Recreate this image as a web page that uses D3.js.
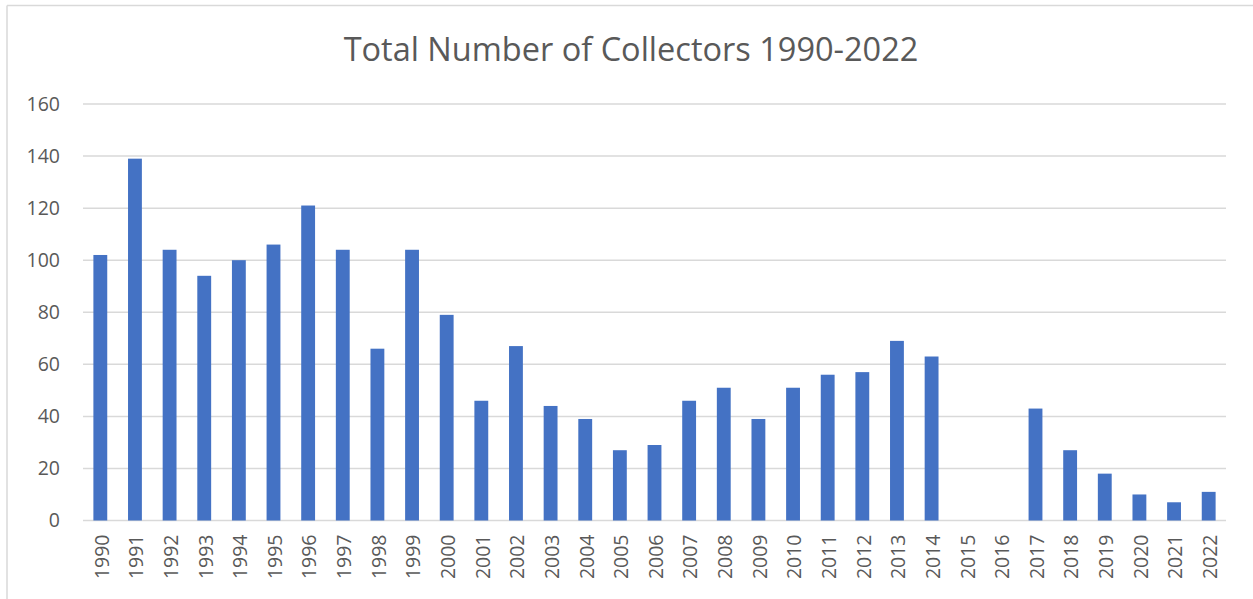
<!DOCTYPE html>
<html><head><meta charset="utf-8">
<script src="https://cdn.jsdelivr.net/npm/d3@7"></script>
<style>body{margin:0;background:#fff;} svg{display:block;}</style>
</head><body>
<svg id="chart" width="1253" height="599"></svg>
<script>
const years = ["1990","1991","1992","1993","1994","1995","1996","1997","1998","1999","2000","2001","2002","2003","2004","2005","2006","2007","2008","2009","2010","2011","2012","2013","2014","2015","2016","2017","2018","2019","2020","2021","2022"];
const collectors = [102,139,104,94,100,106,121,104,66,104,79,46,67,44,39,27,29,46,51,39,51,56,57,69,63,0,0,43,27,18,10,7,11];
const yTicks = [0,20,40,60,80,100,120,140,160];
const title = "Total Number of Collectors 1990-2022";

const svg = d3.select("#chart");
const W = 1253, H = 599;
const m = {left:83, right:27, top:104, bottom:78.5};
const font = "'Open Sans', 'Liberation Sans', sans-serif";

// chart frame (only top and left edges visible in the cropped reference)
svg.append("line").attr("x1",7).attr("x2",W).attr("y1",5.5).attr("y2",5.5)
  .attr("stroke","#d9d9d9").attr("stroke-width",1.5);
svg.append("line").attr("x1",7).attr("x2",7).attr("y1",5.5).attr("y2",H)
  .attr("stroke","#d9d9d9").attr("stroke-width",1.5);

const x = d3.scaleBand().domain(years).range([m.left, W-m.right]).paddingInner(0.6).paddingOuter(0.3);
const y = d3.scaleLinear().domain([0,160]).range([H-m.bottom, m.top]);

// gridlines
svg.append("g").selectAll("line").data(yTicks).join("line")
  .attr("x1",m.left).attr("x2",W-m.right)
  .attr("y1",d=>y(d)).attr("y2",d=>y(d))
  .attr("stroke","#d9d9d9").attr("stroke-width",1.5);

// y axis labels
const yAxis = d3.axisLeft(y).tickValues(yTicks).tickSize(0).tickPadding(0);
const gy = svg.append("g").attr("transform",`translate(${60},0)`).call(yAxis);
gy.select(".domain").remove();
gy.selectAll("text").attr("font-family",font).attr("font-size",19.5).attr("fill","#595959");

// bars
svg.append("g").selectAll("rect").data(years).join("rect")
  .attr("x",d=>x(d)).attr("width",x.bandwidth())
  .attr("y",(d,i)=>y(collectors[i])).attr("height",(d,i)=>y(0)-y(collectors[i]))
  .attr("fill","#4472c4");

// x axis
const xAxis = d3.axisBottom(x).tickSize(0).tickPadding(0);
const gx = svg.append("g").attr("transform",`translate(0,${y(0)})`).call(xAxis);
gx.select(".domain").remove();
gx.selectAll("text")
  .attr("font-family",font).attr("font-size",19.5).attr("fill","#595959")
  .attr("transform","rotate(-90)").attr("text-anchor","end")
  .attr("x",-14).attr("y",1.5).attr("dy","0.35em");

// title
svg.append("text").attr("x",631).attr("y",61).attr("text-anchor","middle")
  .attr("font-family",font).attr("font-size",32.5).attr("fill","#595959").text(title);
</script>
</body></html>
